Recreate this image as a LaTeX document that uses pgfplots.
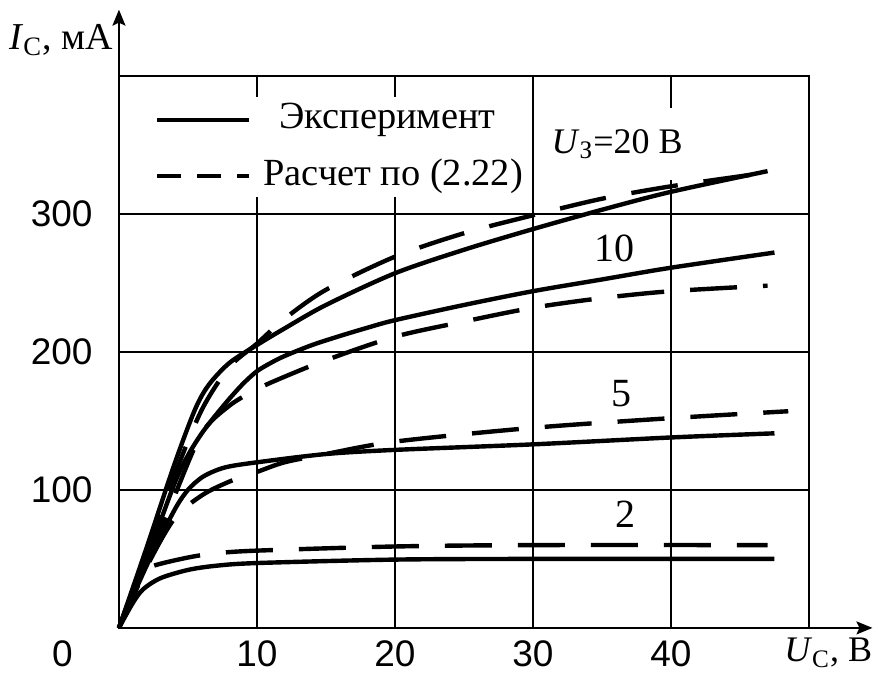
\documentclass[border=0pt]{standalone}
\usepackage{fontspec}
\setmainfont{Liberation Serif}
\newfontfamily\arial{Liberation Sans}
\usepackage{pgfplots}
\pgfplotsset{compat=1.18}
\usetikzlibrary{arrows.meta}
\begin{document}
\begin{tikzpicture}
\begin{axis}[
  scale only axis, width=345pt, height=276pt,
  xmin=0, xmax=50, ymin=0, ymax=400,
  xtick={10,20,30,40}, ytick={100,200,300},
  grid=major, major grid style={line width=1pt, black},
  major tick length=0pt,
  axis line style={line width=1pt},
  clip=false,
  /pgf/number format/assume math mode=true,
  tick label style={font=\arial\fontsize{18.5}{20}\selectfont},
  xticklabel style={anchor=north, inner sep=0pt, yshift=-6pt},
  yticklabel style={anchor=east, inner sep=0pt, xshift=-13pt},
  legend style={at={(axis cs:2.0,385)}, anchor=north west, draw=none, fill=white,
    font=\fontsize{19.2}{22}\selectfont, inner xsep=4pt, inner ysep=2pt, row sep=10pt,
    column sep=6pt,
    nodes={inner sep=0pt, text height=14pt, text depth=4pt}},
  legend cell align=left,
  legend image code/.code={\draw[#1] (0pt,-0.5pt) -- (46pt,-0.5pt);},
  every axis plot/.append style={line width=2.2pt, black, smooth},
]
\addlegendimage{line width=2.2pt}
\addlegendentry{\hspace{8pt}Эксперимент}
\addlegendimage{line width=2.2pt, dash pattern=on 12pt off 8pt}
\addlegendentry{Расчет по (2.22)}

% U3 = 20 V
\addplot[forget plot] coordinates {(0,0) (2,58) (4,118) (5.5,158) (6.5,176) (8,192) (10,205) (12,217) (15,234) (20,257) (25,274) (30,289) (35,303) (40,316) (47,331)};
\addplot[forget plot, dash pattern=on 23.5pt off 13pt] coordinates {(0,0) (2,55) (4,110) (6,158) (8,189) (10,206) (12,224) (15,245) (20,269) (25,286) (30,299) (35,311) (40,320) (47,330)};
% U3 = 10 V
\addplot[forget plot] coordinates {(0,0) (2,50) (4,104) (5,125) (6,141) (7,154) (8,166) (9,177) (10,186) (11,192) (12,197) (14,205) (16,211.5) (18,217.5) (20,223) (25,234) (30,244) (35,252.5) (40,261) (47.5,272)};
\addplot[forget plot, dash pattern=on 23.5pt off 13pt] coordinates {(0,0) (2,45) (4,95) (6,141) (8,161) (10,173) (12,182) (15,194) (20,211) (25,222) (30,232) (35,239) (40,244) (47,248)};
% U3 = 5 V
\addplot[forget plot] coordinates {(0,0) (2,45) (4,85) (5,100) (6,109) (7,114) (8,117) (10,120) (15,126) (20,129) (30,133) (40,138) (47.5,141)};
\addplot[forget plot, dash pattern=on 23.5pt off 13pt] coordinates {(0,0) (2,44) (4,79) (6,96) (8,106) (10,113) (12,120) (15,126) (20,135) (30,145) (40,152) (48.5,157)};
% U3 = 2 V
\addplot[forget plot] coordinates {(0,0) (1,18) (1.75,28) (3,36) (5,42) (7,45) (10,47) (20,49.5) (30,50) (47.5,50)};
\addplot[forget plot, dash pattern=on 23.5pt off 13pt] coordinates {(0,0) (1,25) (2,40) (2.5,45) (5,51) (7,54) (10,56) (20,59) (30,60) (47,60)};

\node[fill=white, inner xsep=3pt, inner ysep=9pt, text height=14pt, text depth=4pt,
  font=\fontsize{18}{20}\selectfont] at (axis cs:36.1,351) {\textit{U}\textsubscript{З}=20 В};
\node[font=\fontsize{20}{22}\selectfont] at (axis cs:35.9,275) {10};
\node[font=\fontsize{20}{22}\selectfont] at (axis cs:36.4,170) {5};
\node[font=\fontsize{20}{22}\selectfont] at (axis cs:36.7,82) {2};

\draw[line width=1pt, -{Stealth[length=8pt, width=6.5pt, inset=1.5pt]}] (axis cs:0,400) -- (axis cs:0,448);
\draw[line width=1pt, -{Stealth[length=8pt, width=6.5pt, inset=1.5pt]}] (axis cs:50,0) -- (axis cs:54.6,0);

\node[anchor=base east, inner sep=0pt, font=\fontsize{19}{22}\selectfont] at (axis cs:-0.43,419) {\textit{I}\textsubscript{С}, мА};
\node[anchor=base east, inner sep=0pt, font=\fontsize{18}{20}\selectfont] at (axis cs:54.6,-24.6) {\textit{U}\textsubscript{С}, В};
\node[anchor=north, inner sep=0pt, yshift=-6pt, font=\arial\fontsize{18.5}{20}\selectfont] at (axis cs:-4.1,0) {0};

\coordinate (bbll) at (axis cs:-8.62,-34.3);
\coordinate (bbur) at (axis cs:54.93,455);
\end{axis}
\pgfresetboundingbox
\useasboundingbox (bbll) rectangle (bbur);
\end{tikzpicture}
\end{document}
